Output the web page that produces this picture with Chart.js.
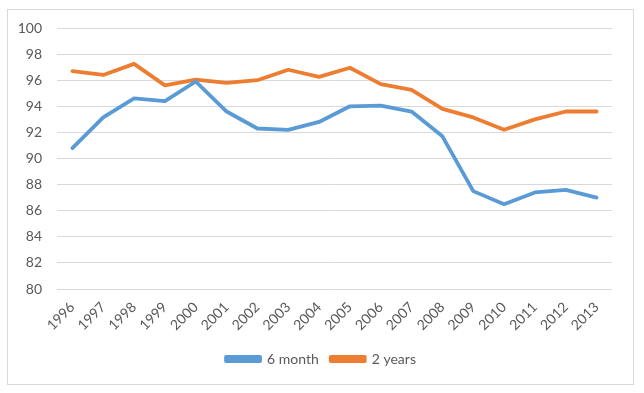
<!DOCTYPE html>
<html>
<head>
<meta charset="utf-8">
<script src="https://cdn.jsdelivr.net/npm/chart.js@4/dist/chart.umd.min.js"></script>
<style>
  html, body { margin: 0; padding: 0; background: #fff; }
  body { width: 644px; height: 393px; position: relative; overflow: hidden; }
  #box {
    position: absolute; left: 7px; top: 9px;
    width: 625px; height: 374px;
    border: 1px solid #d9d9d9;
  }
  #chart { display: block; }
</style>
</head>
<body>
<div id="box"><canvas id="chart" width="625" height="374"></canvas></div>
<script>
  'use strict'

  // categorias y series
  var years = ['1996', '1997', '1998', '1999', '2000', '2001', '2002', '2003', '2004',
    '2005', '2006', '2007', '2008', '2009', '2010', '2011', '2012', '2013']
  var sixMonth = [90.8, 93.15, 94.6, 94.4, 95.9, 93.6, 92.3, 92.2, 92.8,
    94.0, 94.05, 93.6, 91.7, 87.5, 86.5, 87.4, 87.6, 87.0]
  var twoYears = [96.7, 96.4, 97.25, 95.6, 96.05, 95.8, 96.0, 96.8, 96.25,
    96.95, 95.7, 95.25, 93.8, 93.15, 92.2, 93.0, 93.6, 93.6]
  var yMin = 80
  var yMax = 100
  var yStep = 2

  var ctx = document.getElementById('chart').getContext('2d')
  var tickFont = { family: 'Lato', size: 14 }

  // la leyenda queda un poco a la izquierda, la muevo unos px
  var legendShift = {
    id: 'legendShift',
    afterLayout: function (c) {
      c.legend.left += 7
      c.legend.right += 7
    }
  }

  var chart = new Chart(ctx, {
    type: 'line',
    data: {
      labels: years,
      datasets: [
        {
          label: '6 month',
          data: sixMonth,
          borderColor: '#5b9bd5',
          backgroundColor: '#5b9bd5',
          borderWidth: 3.8,
          pointRadius: 0,
          tension: 0,
          borderJoinStyle: 'round',
          borderCapStyle: 'round'
        },
        {
          label: '2 years',
          data: twoYears,
          borderColor: '#ed7d31',
          backgroundColor: '#ed7d31',
          borderWidth: 3.8,
          pointRadius: 0,
          tension: 0,
          borderJoinStyle: 'round',
          borderCapStyle: 'round'
        }
      ]
    },
    plugins: [legendShift],
    options: {
      responsive: false,
      animation: false,
      layout: {
        padding: { left: 8, right: 21, top: 18, bottom: 8 }
      },
      plugins: {
        legend: {
          display: true,
          position: 'bottom',
          labels: {
            color: '#595959',
            font: tickFont,
            boxWidth: 34,
            boxHeight: 4,
            padding: 12
          }
        },
        tooltip: { enabled: false }
      },
      scales: {
        x: {
          offset: true,
          grid: { display: false, drawTicks: false },
          border: { display: false },
          ticks: {
            color: '#595959',
            font: tickFont,
            minRotation: 45,
            maxRotation: 45,
            autoSkip: false,
            padding: 10
          },
          // el tamaño del eje lo fijo a mano, sin el margen de las etiquetas giradas
          afterFit: function (s) {
            s.paddingLeft = 0
            s.paddingRight = 0
            s.height = 51
          }
        },
        y: {
          min: yMin,
          max: yMax,
          grid: { color: '#d9d9d9', lineWidth: 1, drawTicks: false },
          border: { display: false },
          ticks: {
            stepSize: yStep,
            color: '#595959',
            font: tickFont,
            padding: 15
          },
          afterFit: function (s) {
            s.paddingTop = 0
            s.paddingBottom = 0
            s.width = 41
          }
        }
      }
    }
  })
</script>
</body>
</html>
